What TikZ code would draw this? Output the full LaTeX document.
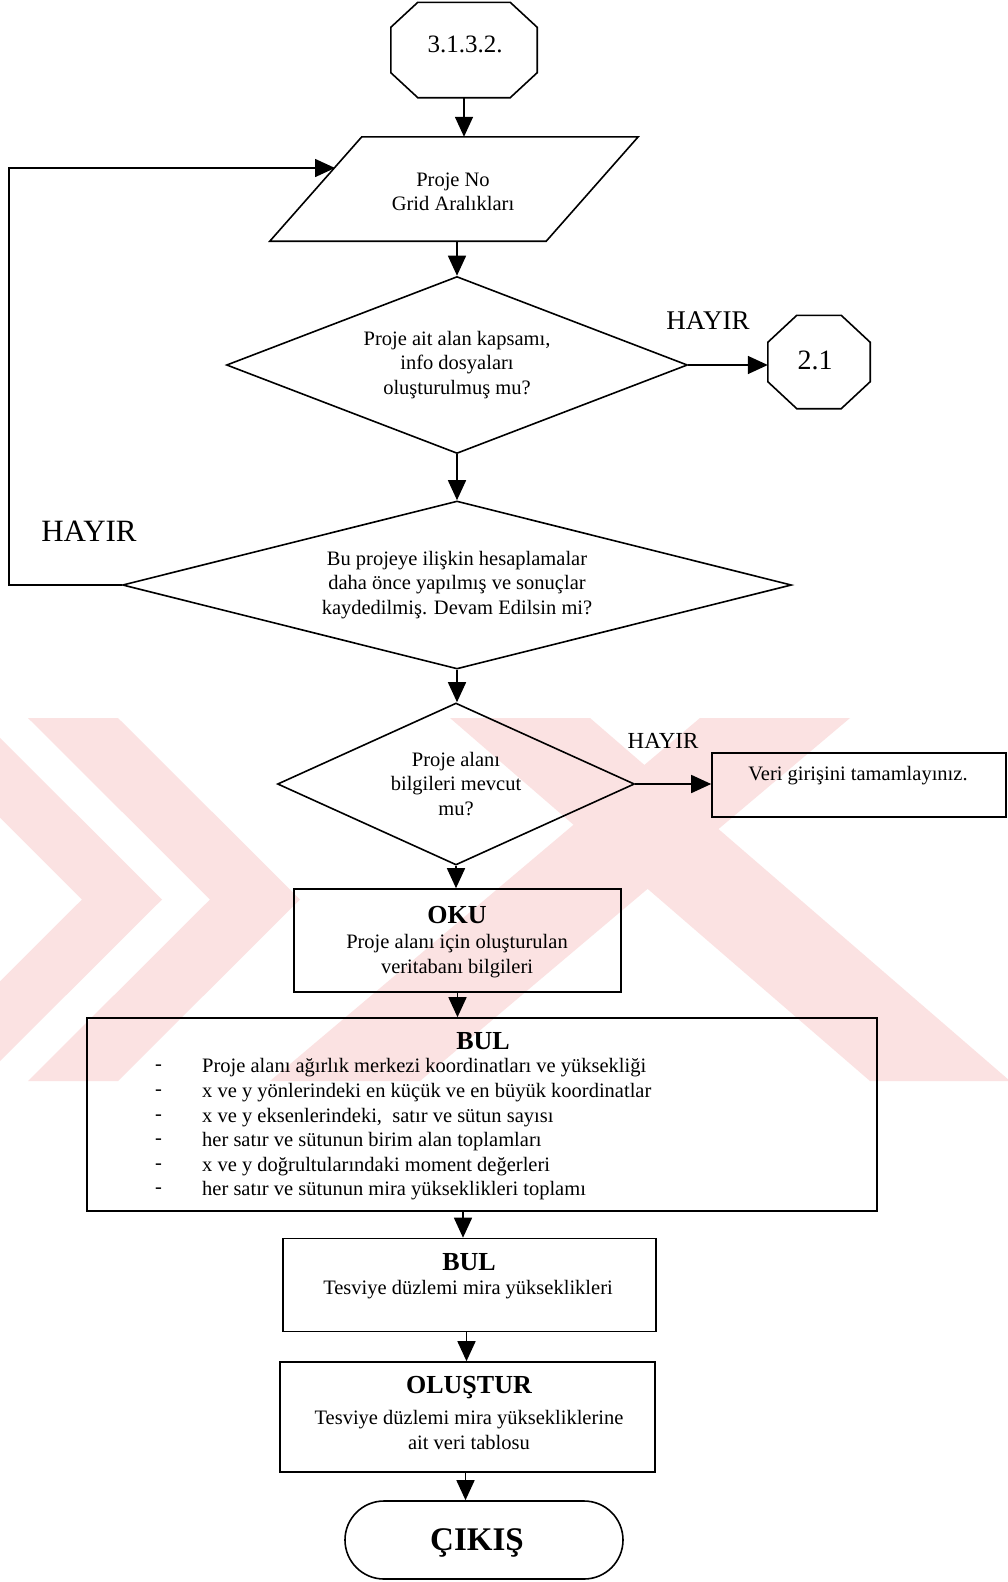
\documentclass[tikz,border=0pt]{standalone}
\usepackage{fontspec}
\setmainfont{Liberation Serif}
\usetikzlibrary{arrows.meta,shapes.geometric,shapes.misc,calc}
\definecolor{wm}{RGB}{251,226,226}
\newcommand\mytxt{\fontsize{20.5}{24.5}\selectfont}
\newcommand\mytitle{\fontsize{26}{28}\selectfont\bfseries}
\tikzset{
  ln/.style={line width=1.6pt},
  arr/.style={ln,-{Triangle[length=20pt,width=18pt]}},
  boxst/.style={draw,ln,rectangle,inner sep=0pt},
  shell/.style={rectangle,inner sep=0pt},
  dia/.style={draw,ln,diamond,inner sep=0pt,align=center,font=\mytxt},
  txt/.style={align=center,font=\mytxt,inner sep=0pt},
  lst/.style={anchor=west,font=\mytxt,inner sep=0pt},
  hay/.style={inner sep=0pt},
}
\begin{document}
\begin{tikzpicture}[x=1pt,y=-1pt]
\useasboundingbox (0,0) rectangle (1008,1582);
\fill[white] (0,0) rectangle (1008,1582);
% watermark (faint background logo)
\begin{scope}
\clip (0,718) rectangle (1008,1081);
\fill[wm] (28,718) -- (118,718) -- (300,899.5) -- (118,1081) -- (28,1081) -- (210,899.5) -- cycle;
\fill[wm] (-100,718) -- (-20,718) -- (162,899.5) -- (-20,1081) -- (-100,1081) -- (82,899.5) -- cycle;
\fill[wm] (270,1081) -- (420,1081) -- (850,718) -- (700,718) -- cycle;
\fill[wm] (450,718) -- (590,718) -- (1010,1081) -- (870,1081) -- cycle;
\end{scope}

% top octagon
\node[shell,minimum width=146pt,minimum height=95pt] (o1) at (464,50) {};
\draw[ln] ([xshift=27pt]o1.north west) -- ([xshift=-27pt]o1.north east) -- ([yshift=-25pt]o1.north east) -- ([yshift=25pt]o1.south east) -- ([xshift=-27pt]o1.south east) -- ([xshift=27pt]o1.south west) -- ([yshift=25pt]o1.south west) -- ([yshift=-25pt]o1.north west) -- cycle;
\node[txt,font=\fontsize{25}{28}\selectfont] (o1t) at (465,44) {3.1.3.2.};

% parallelogram
\node[shell,minimum width=368pt,minimum height=104pt] (par) at (454,189) {};
\draw[ln] ([xshift=92pt]par.north west) -- (par.north east) -- ([xshift=-92pt]par.south east) -- (par.south west) -- cycle;
\node[txt] (part) at (453,192) {Proje No\\Grid Aralıkları};
\coordinate (parin) at (335,168);

% diamond 1
\node[dia,minimum width=461pt,minimum height=177pt,shape aspect=2.6] (d1) at (457,365) {Proje ait alan kapsamı,\\info dosyaları\\oluşturulmuş mu?};
% octagon 2.1
\node[shell,minimum width=102pt,minimum height=93pt] (o2) at (819,362) {};
\draw[ln] ([xshift=29pt]o2.north west) -- ([xshift=-29pt]o2.north east) -- ([yshift=-27pt]o2.north east) -- ([yshift=27pt]o2.south east) -- ([xshift=-29pt]o2.south east) -- ([xshift=29pt]o2.south west) -- ([yshift=27pt]o2.south west) -- ([yshift=-27pt]o2.north west) -- cycle;
\node[txt,font=\fontsize{28}{30}\selectfont] (o2t) at (815,360) {2.1};
\node[hay,font=\fontsize{27}{30}\selectfont] (h2) at (708,321) {HAYIR};

% diamond 2
\node[dia,minimum width=669pt,minimum height=168pt,shape aspect=4] (d2) at (457,585) {Bu projeye ilişkin hesaplamalar\\daha önce yapılmış ve sonuçlar\\kaydedilmiş. Devam Edilsin mi?};
\node[hay,font=\fontsize{31}{34}\selectfont] (h1) at (89,531) {HAYIR};

% diamond 3
\node[dia,minimum width=357pt,minimum height=162pt,shape aspect=2.2] (d3) at (456,784) {Proje alanı\\bilgileri mevcut\\mu?};
\node[hay,font=\fontsize{23}{26}\selectfont] (h3) at (663,741) {HAYIR};
\node[boxst,minimum width=294pt,minimum height=64pt] (veri) at (859,785) {};
\node[txt] (verit) at (858,776) {Veri girişini tamamlayınız.};

% OKU box
\node[boxst,minimum width=327pt,minimum height=103pt] (oku) at (457.5,940.5) {};
\node[txt,font=\mytitle] (okut) at (457,915) {OKU};
\node[txt] (okus) at (457,956) {Proje alanı için oluşturulan\\veritabanı bilgileri};

% BUL big box
\node[boxst,minimum width=790pt,minimum height=193pt] (bul) at (482,1114.5) {};
\node[txt,font=\mytitle] (bult) at (483,1041) {BUL};
\foreach \i/\t in {0/Proje alanı ağırlık merkezi koordinatları ve yüksekliği,
                   1/x ve y yönlerindeki en küçük ve en büyük koordinatlar,
                   2/{x ve y eksenlerindeki,\ \ satır ve sütun sayısı},
                   3/her satır ve sütunun birim alan toplamları,
                   4/x ve y doğrultularındaki moment değerleri,
                   5/her satır ve sütunun mira yükseklikleri toplamı}{
  \node[lst] (bl\i) at (202,1068+24.6*\i) {\t};
  \node[lst] (bd\i) at (155,1068+24.6*\i) {-};
}

% BUL 2
\node[boxst,minimum width=373pt,minimum height=93pt] (bul2) at (469.5,1285) {};
\node[txt,font=\mytitle] (bul2t) at (469,1262) {BUL};
\node[txt] (bul2s) at (468,1290) {Tesviye düzlemi mira yükseklikleri};

% OLUSTUR
\node[boxst,minimum width=375pt,minimum height=110pt] (olus) at (467.5,1417) {};
\node[txt,font=\mytitle] (olust) at (469,1388) {OLUŞTUR};
\node[txt] (oluss) at (469,1430) {Tesviye düzlemi mira yüksekliklerine\\ait veri tablosu};

% CIKIS
\node[draw,ln,rounded rectangle,minimum width=278pt,minimum height=78pt,inner sep=0pt] (cik) at (484,1540) {};
\node[txt,font=\fontsize{33}{35}\selectfont\bfseries] (cikt) at (477,1543) {ÇIKIŞ};

% connectors
\draw[arr] (o1.south) -- (o1.south |- par.north);
\draw[arr] (d1.north |- par.south) -- (d1.north);
\draw[arr] (d1.east) -- (d1.east -| o2.west);
\draw[arr] (d1.south) -- (d2.north);
\draw[arr] (d2.west) -- ([xshift=-113pt]d2.west) |- (parin);
\draw[arr] (d2.south) -- (d2.south |- d3.north);
\draw[arr] (d3.east) -- (d3.east -| veri.west);
\draw[arr] (d3.south) -- (d3.south |- oku.north);
\draw[arr] (oku.south) -- (oku.south |- bul.north);
\draw[arr] ([xshift=-19pt]bul.south) -- ([xshift=-19pt]bul.south |- bul2.north);
\draw[arr] ([xshift=-3pt]bul2.south) -- ([xshift=-3pt]bul2.south |- olus.north);
\draw[arr] ([xshift=-2pt]olus.south) -- ([xshift=-2pt]olus.south |- cik.north);
\end{tikzpicture}
\end{document}
